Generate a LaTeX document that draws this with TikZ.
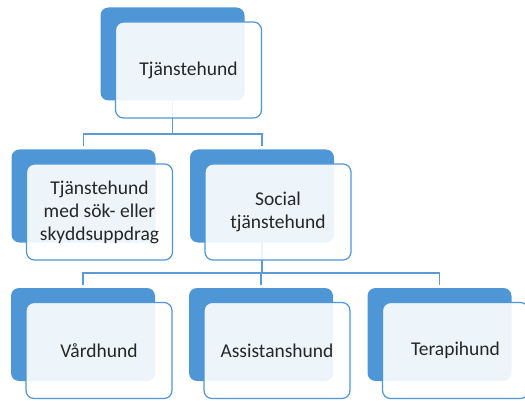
\documentclass[tikz,border=0pt]{standalone}
\usepackage{fontspec}
\setmainfont{Carlito}
\usetikzlibrary{positioning}

\definecolor{boxblue}{RGB}{79,150,214}
\definecolor{lineblue}{RGB}{91,155,213}
\definecolor{txtgrey}{RGB}{38,38,38}

\tikzset{
  backbox/.style={fill=boxblue, rounded corners=8pt, minimum width=144pt, minimum height=93pt, inner sep=0pt},
  frontbox/.style={draw=boxblue, line width=1.2pt, fill=white, fill opacity=0.9, text opacity=1,
    rounded corners=8pt, minimum width=146pt, minimum height=96pt, inner sep=0pt,
    align=center, text=txtgrey, font=\fontsize{19.5}{23}\selectfont, xshift=16pt, yshift=-16pt},
  bus/.style={draw=lineblue, line width=1.8pt}
}

\begin{document}
\begin{tikzpicture}[x=1pt,y=-1pt]
\useasboundingbox (0,0) rectangle (525,401);
% back boxes
\node[backbox] (top) at (172.5,54) {};
\node[backbox] (sok) at (83.5,196) {};
\node[backbox] (soc) at (262,196) {};
\node[backbox] (vard) at (83,334.5) {};
\node[backbox] (assist) at (261,334.5) {};
\node[backbox] (terapi) at (439.5,334.5) {};
% connectors
\draw[bus] (top.south) -- ++(0,33) -| ([yshift=3pt]sok.north);
\draw[bus] (top.south) -- ++(0,33) -| ([yshift=3pt]soc.north);
\draw[bus] (soc.south) -- ++(0,30) -| ([yshift=3pt]vard.north);
\draw[bus] (soc.south) -- ++(0,30) -| ([yshift=3pt]assist.north);
\draw[bus] (soc.south) -- ++(0,30) -| ([yshift=3pt]terapi.north);
% front boxes
\node[frontbox] (topf) at (top) {Tjänstehund};
\node[frontbox] (sokf) at (sok) {Tjänstehund\\med sök- eller\\skyddsuppdrag};
\node[frontbox] (socf) at (soc) {Social\\tjänstehund};
\node[frontbox] (vardf) at (vard) {Vårdhund};
\node[frontbox] (assistf) at (assist) {Assistanshund};
\node[frontbox] (terapif) at (terapi) {Terapihund};
\end{tikzpicture}
\end{document}
